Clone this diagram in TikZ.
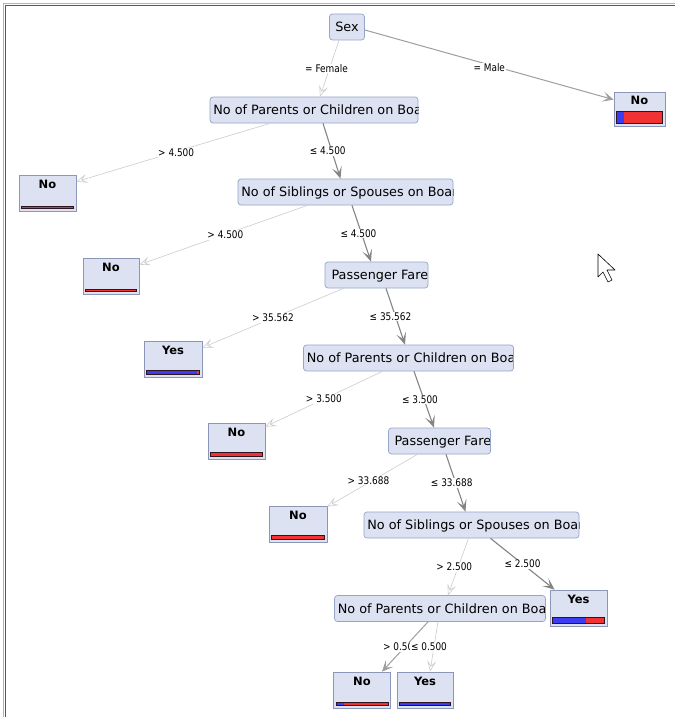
\documentclass[tikz,border=0pt]{standalone}
\usepackage{fontspec}
\setmainfont{DejaVu Sans}
\newfontfamily\condfont[FakeStretch=0.85]{DejaVu Sans}
\usetikzlibrary{arrows.meta,calc}

\definecolor{splitfill}{RGB}{220,226,242}
\definecolor{splitline}{RGB}{150,164,200}
\definecolor{leafline}{RGB}{140,150,185}
\definecolor{barblue}{RGB}{60,60,240}
\definecolor{barred}{RGB}{240,50,50}
\definecolor{barline}{RGB}{45,20,30}
\definecolor{frameline}{RGB}{60,90,150}
\definecolor{frameedge}{RGB}{165,180,205}

\tikzset{
  split/.style={draw=splitline, fill=splitfill, rounded corners=3pt, line width=0.7pt,
    inner sep=0pt, minimum height=26pt, font=\fontsize{12.8}{12.8}\selectfont},
  cut/.style={split, path picture={\node[anchor=base west, inner sep=0pt,
    font=\fontsize{12.8}{12.8}\selectfont] at ([shift={(3pt,-4.6pt)}]path picture bounding box.west) {#1};}},
  leaf/.style={draw=leafline, fill=splitfill, line width=0.7pt, minimum width=56pt,
    inner xsep=0pt, inner ysep=0pt, text height=13pt, text depth=23pt,
    font=\bfseries\fontsize{11.5}{11.5}\selectfont},
  lbl/.style={fill=white, inner sep=0.8pt, text=black, font=\condfont\fontsize{10.5}{10.5}\selectfont},
  faint/.style={draw=black!20, line width=0.6pt, -{Stealth[open, length=11pt, width=9pt, inset=5pt]}},
  mid/.style={draw=black!38, line width=1pt, -{Stealth[length=11pt, width=10pt, inset=5.5pt]}},
  strong/.style={draw=black!48, line width=1.1pt, -{Stealth[length=12pt, width=10pt, inset=6pt]}},
}

% bar under a leaf: leaf, bar height, blue share
\newcommand\leafbar[3]{%
  \path ([shift={(3pt,3.5pt)}]#1.south west) coordinate (barbl)
        ([shift={(-3pt,3.5pt+#2)}]#1.south east) coordinate (bartr)
        ($(barbl)!#3!(barbl -| bartr)$) coordinate (barmid);
  \fill[barred] (barbl) rectangle (bartr);
  \fill[barblue] (barbl) rectangle (barmid |- bartr);
  \draw[barline, line width=0.6pt] (barbl) rectangle (bartr);
}

\begin{document}
\begin{tikzpicture}[x=1pt, y=-1pt]
\useasboundingbox (0,0) rectangle (675,717);
\fill[white] (0,0) rectangle (675,717);
\draw[frameedge, line width=1pt] (3.5,717) -- (3.5,3.5) -- (675,3.5);
\draw[frameline, line width=1.3pt] (5.3,717) -- (5.3,5.3) -- (675,5.3);

% splits
\node[split, minimum width=35pt] (sex) at (347,27) {Sex};
\node[cut={No of Parents or Children on Boar}, minimum width=208pt] (pc1) at (314,110) {};
\node[cut={No of Siblings or Spouses on Board}, minimum width=215pt] (ss1) at (345.5,192) {};
\node[cut={Passenger Fare}, minimum width=103pt] (pf1) at (376.5,275) {};
\node[cut={No of Parents or Children on Boar}, minimum width=210pt] (pc2) at (408.5,358) {};
\node[cut={Passenger Fare}, minimum width=102pt] (pf2) at (439.5,441) {};
\node[cut={No of Siblings or Spouses on Board}, minimum width=215pt] (ss2) at (471.5,525) {};
\node[cut={No of Parents or Children on Boar}, minimum width=211pt] (pc3) at (440,608.5) {};

% leaves
\node[leaf, minimum width=51pt, text height=12pt, text depth=22pt] (leafm) at (639.5,109) {No};
\node[leaf, minimum width=57pt] (lf1) at (47.5,193) {No};
\node[leaf] (lf2) at (111,276) {No};
\node[leaf, minimum width=58pt] (lf3) at (173,359) {Yes};
\node[leaf, minimum width=57pt] (lf4) at (236.5,441) {No};
\node[leaf, minimum width=58pt] (lf5) at (298,524) {No};
\node[leaf, minimum width=57pt] (lf6) at (578.5,608) {Yes};
\node[leaf, minimum width=57pt] (lf7) at (362,690) {No};
\node[leaf] (lf8) at (425,690) {Yes};

\leafbar{leafm}{12pt}{0.15}
\leafbar{lf1}{2pt}{0}
\leafbar{lf2}{2pt}{0}
\leafbar{lf3}{3.5pt}{0.96}
\leafbar{lf4}{3.5pt}{0}
\leafbar{lf5}{3.5pt}{0}
\leafbar{lf6}{6pt}{0.65}
\leafbar{lf7}{3pt}{0.15}
\leafbar{lf8}{3pt}{1}

% branches
\draw[faint] ([xshift=-8pt]sex.south) -- node[lbl, xshift=-3pt] {= Female} ([xshift=6pt]pc1.north);
\draw[mid] ([yshift=-3pt]sex.east) -- node[lbl, yshift=-3pt] {= Male} ([yshift=-8pt]leafm.north west);
\draw[faint] ([xshift=-44pt]pc1.south) -- node[lbl, xshift=3pt] {> 4.500} ([yshift=-7pt]lf1.north east);
\draw[strong] ([xshift=9pt]pc1.south) -- node[lbl, xshift=-4pt] {≤ 4.500} ([xshift=-5pt]ss1.north);
\draw[faint] ([xshift=-38pt]ss1.south) -- node[lbl, xshift=2pt] {> 4.500} ([yshift=-7pt]lf2.north east);
\draw[strong] ([xshift=6.5pt]ss1.south) -- node[lbl, xshift=-3pt] {≤ 4.500} ([xshift=-5.5pt]pf1.north);
\draw[faint] ([xshift=-33pt]pf1.south) -- node[lbl] {> 35.562} ([yshift=-7pt]lf3.north east);
\draw[strong] ([xshift=9.5pt]pf1.south) -- node[lbl, xshift=-5pt] {≤ 35.562} ([xshift=-3.5pt]pc2.north);
\draw[faint] ([xshift=-26pt]pc2.south) -- node[lbl] {> 3.500} ([yshift=-4pt]lf4.north east);
\draw[strong] ([xshift=5.5pt]pc2.south) -- node[lbl, xshift=-4pt] {≤ 3.500} ([xshift=-5.5pt]pf2.north);
\draw[faint] ([xshift=-22pt]pf2.south) -- node[lbl, xshift=-4pt] {> 33.688} ([yshift=-1pt]lf5.north east);
\draw[strong] ([xshift=6.5pt]pf2.south) -- node[lbl, xshift=-4pt] {≤ 33.688} ([xshift=-6pt]ss2.north);
\draw[faint] ([xshift=-3pt]ss2.south) -- node[lbl, xshift=-4pt] {> 2.500} ([xshift=8pt]pc3.north);
\draw[strong] ([xshift=19pt]ss2.south) -- node[lbl] {≤ 2.500} ([xshift=5pt]lf6.north west);
\draw[mid] ([xshift=-12pt]pc3.south) -- node[lbl, xshift=-4pt] {> 0.500} ([xshift=20pt]lf7.north);
\draw[faint] ([xshift=-2pt]pc3.south) -- node[lbl, xshift=-5pt] {≤ 0.500} ([xshift=5pt]lf8.north);

% mouse pointer
\draw[fill=white, line width=0.6pt, line join=round]
  (598,254) -- (598,277) -- (603,272) -- (608,282) -- (612,280) -- (607,270) -- (615,270) -- cycle;
\end{tikzpicture}
\end{document}
